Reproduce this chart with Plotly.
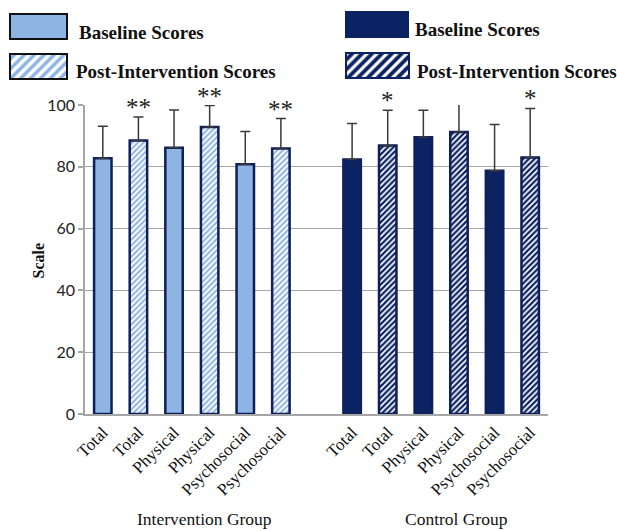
import plotly.graph_objects as go

# ---- data -------------------------------------------------------------
measures = ["Total", "Physical", "Psychosocial"]
groups = ["Intervention Group", "Control Group"]

intervention_baseline = [82.8, 86.2, 80.8]
intervention_baseline_sd = [10.3, 12.2, 10.6]
intervention_post = [88.5, 92.9, 85.9]
intervention_post_sd = [7.6, 6.9, 9.7]
intervention_marks = ["**", "**", "**"]

control_baseline = [82.4, 89.6, 78.7]
control_baseline_sd = [11.6, 8.7, 15.0]
control_post = [86.9, 91.3, 83.0]
control_post_sd = [11.4, 11.0, 15.9]
control_marks = ["*", "", "*"]

y_ticks = [0, 20, 40, 60, 80, 100]

# ---- styling ----------------------------------------------------------
W, H = 617, 531
LIGHT = "#8DB4E2"
NAVY = "#0B2363"
EDGE = "#0F1F5A"
GRID = "#A6A6A6"
SERIF = "Liberation Serif, Times New Roman, serif"
SANS = "Lato, Calibri, sans-serif"

# plot area in pixels
PX0, PX1 = 85, 548
PY_TOP, PY_BOT = 105, 414

slot = 2 * len(measures) + 1  # bars per group plus one empty gap slot


def pos(group_idx, measure_idx, post):
    return group_idx * slot + measure_idx * 2 + (1 if post else 0)


def stripes(kind, size):
    if kind == "light":
        return dict(shape="/", fgcolor=LIGHT, bgcolor="white",
                    size=size, solidity=0.5, fillmode="replace")
    return dict(shape="/", fgcolor=NAVY, bgcolor="white",
                size=size, solidity=0.55, fillmode="replace")


fig = go.Figure()

series = [
    (0, intervention_baseline, intervention_baseline_sd, False, LIGHT, None),
    (0, intervention_post, intervention_post_sd, True, LIGHT, "light"),
    (1, control_baseline, control_baseline_sd, False, NAVY, None),
    (1, control_post, control_post_sd, True, NAVY, "dark"),
]

for g, vals, sds, post, color, pat in series:
    xs = [pos(g, i, post) for i in range(len(measures))]
    marker = dict(color=color, line=dict(color=EDGE, width=2.5))
    if pat:
        marker["pattern"] = stripes(pat, 4)
    fig.add_trace(go.Bar(
        x=xs, y=vals, width=0.49, marker=marker, showlegend=False,
        error_y=dict(type="data", array=sds, arrayminus=[0] * len(sds),
                     symmetric=False, color="#3A3A3A", thickness=1.5, width=5),
    ))

# significance markers above the post-intervention error bars
for g, vals, sds, marks in [
    (0, intervention_post, intervention_post_sd, intervention_marks),
    (1, control_post, control_post_sd, control_marks),
]:
    for i, m in enumerate(marks):
        if not m:
            continue
        fig.add_annotation(x=pos(g, i, True), y=vals[i] + sds[i], xref="x", yref="y",
                           text=m, showarrow=False, yanchor="bottom", yshift=-6,
                           font=dict(family=SERIF, size=25, color="#222"))

# category tick labels
tickvals, ticktext = [], []
for g in range(len(groups)):
    for i, m in enumerate(measures):
        for post in (False, True):
            tickvals.append(pos(g, i, post))
            ticktext.append(m)

n_slots = 2 * slot - 1
boundaries = [b - 0.5 for b in range(n_slots + 1)]

# ---- legend swatches drawn on a full-page pixel axis ------------------
legend_items = [
    # x0, y0, w, h, fill, pattern, border, label, text_x, text_y
    (10, 14, 57, 25, LIGHT, None, "#111", "Baseline Scores", 77, 33),
    (10, 54, 57, 25, LIGHT, "light", "#111", "Post-Intervention Scores", 74, 71),
    (346, 12, 62, 25, NAVY, None, NAVY, "Baseline Scores", 413, 29),
    (346, 53, 63, 25, NAVY, "dark", NAVY, "Post-Intervention Scores", 415, 71),
]
for x0, y0, w, h, fill, pat, border, label, tx, ty in legend_items:
    marker = dict(color=fill, line=dict(color=border, width=2))
    if pat:
        marker["pattern"] = stripes(pat, 7)
    fig.add_trace(go.Bar(x=[x0 + w / 2], y=[h], base=[y0], width=[w],
                         marker=marker, xaxis="x2", yaxis="y2",
                         showlegend=False, hoverinfo="skip"))
    fig.add_annotation(x=tx / W, y=1 - ty / H, xref="paper", yref="paper",
                       text=f"<b>{label}</b>", showarrow=False,
                       xanchor="left", yanchor="middle",
                       font=dict(family=SERIF, size=19, color="#111"))

# group captions under the axis
for label, cx in [(groups[0], 204), (groups[1], 457)]:
    fig.add_annotation(x=cx / W, y=1 - 519 / H, xref="paper", yref="paper",
                       text=label, showarrow=False, xanchor="center", yanchor="middle",
                       font=dict(family=SERIF, size=17.5, color="#111"))

# y-axis title
fig.add_annotation(x=27 / W, y=1 - 261 / H, xref="paper", yref="paper",
                   text="<b>Scale</b>", showarrow=False, textangle=-90,
                   font=dict(family=SERIF, size=16, color="#111"))

fig.update_layout(
    width=W, height=H, autosize=False,
    margin=dict(l=0, r=0, t=0, b=0, pad=0, autoexpand=False),
    paper_bgcolor="white", plot_bgcolor="rgba(0,0,0,0)",
    barmode="overlay",
    xaxis=dict(
        domain=[PX0 / W, PX1 / W], range=[-0.5, n_slots - 0.5],
        tickmode="array", tickvals=tickvals, ticktext=ticktext,
        tickangle=-45, ticks="", showgrid=False, zeroline=False,
        showline=True, linecolor=GRID, linewidth=1.5,
        tickfont=dict(family=SERIF, size=17, color="#111"),
        fixedrange=True,
    ),
    # boundary tick marks between the category slots
    xaxis3=dict(
        overlaying="x", anchor="y", range=[-0.5, n_slots - 0.5],
        tickmode="array", tickvals=boundaries, ticks="outside", ticklen=5,
        tickcolor=GRID, tickwidth=1.5, showticklabels=False,
        showgrid=False, zeroline=False, showline=False, side="bottom",
        fixedrange=True,
    ),
    yaxis=dict(
        domain=[1 - PY_BOT / H, 1 - PY_TOP / H], range=[0, 100],
        tickmode="array", tickvals=y_ticks,
        ticks="outside", ticklen=5, tickcolor=GRID, tickwidth=1.5,
        showgrid=True, gridcolor=GRID, gridwidth=1,
        zeroline=False, showline=True, linecolor=GRID, linewidth=1.5,
        tickfont=dict(family=SANS, size=16, color="#222"),
        fixedrange=True,
    ),
    xaxis2=dict(domain=[0, 1], range=[0, W], visible=False, anchor="y2",
                fixedrange=True),
    yaxis2=dict(domain=[0, 1], range=[H, 0], visible=False, anchor="x2",
                fixedrange=True),
)

fig.write_html("out.html")
